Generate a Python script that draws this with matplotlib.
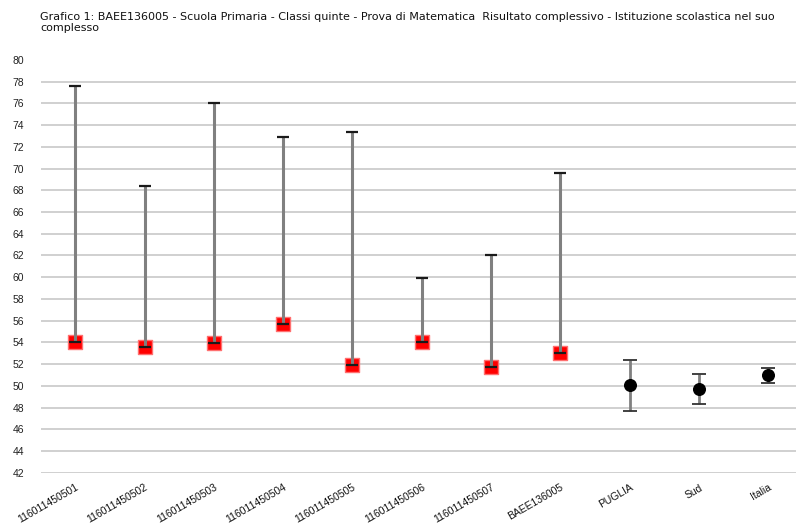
import matplotlib
matplotlib.use("Agg")
import matplotlib.pyplot as plt
import numpy as np

plt.rcParams['font.family'] = ['Liberation Sans', 'DejaVu Sans']

title = ("Grafico 1: BAEE136005 - Scuola Primaria - Classi quinte - Prova di Matematica  Risultato complessivo - Istituzione scolastica nel suo\n"
         "complesso")

school_labels = ["116011450501", "116011450502", "116011450503", "116011450504",
                 "116011450505", "116011450506", "116011450507", "BAEE136005"]
school_values = [54.0, 53.6, 53.95, 55.72, 51.93, 54.0, 51.75, 52.98]
school_upper = [77.63, 68.37, 76.03, 72.87, 73.33, 59.91, 62.03, 69.64]
school_lower = [54.0, 53.6, 53.9, 55.72, 51.9, 54.0, 51.75, 52.98]

ref_labels = ["PUGLIA", "Sud", "Italia"]
ref_values = [50.06, 49.7, 50.98]
ref_upper = [52.37, 51.13, 51.62]
ref_lower = [47.7, 48.28, 50.3]

yticks = list(range(42, 81, 2))

W, H = 796, 524
fig = plt.figure(figsize=(W / 100, H / 100), dpi=100)
left_px, right_px = 40.6, 803.0
top_px, bot_px = 60.0, 472.7
ax = fig.add_axes([left_px / W, 1 - bot_px / H, (right_px - left_px) / W, (bot_px - top_px) / H])

labels = school_labels + ref_labels
n = len(labels)
x_s = np.arange(len(school_labels))
x_r = np.arange(len(school_labels), n)

ax.set_xlim(-0.5, n - 0.5)
ax.set_ylim(42, 80)

for yv in yticks[:-1]:
    ax.axhline(yv, color='#c8c8c8', lw=1.2, zorder=0)

sv = np.array(school_values)
s_err = [np.clip(sv - np.array(school_lower), 0, None), np.array(school_upper) - sv]

ax.scatter(x_s, school_values, marker='s', s=115, color='#ff0000',
           edgecolors='#ff7070', linewidths=1.0, zorder=2)
ax.errorbar(x_s, sv, yerr=s_err, fmt='none', ecolor='#808080', elinewidth=2.2, capsize=0, zorder=3)
ax.errorbar(x_s, sv, yerr=s_err, fmt='none', ecolor='#1a1a1a', elinewidth=0, capsize=4.5,
            capthick=1.6, zorder=4)

rv = np.array(ref_values)
r_err = [rv - np.array(ref_lower), np.array(ref_upper) - rv]
ax.errorbar(x_r, rv, yerr=r_err, fmt='none', ecolor='#808080', elinewidth=2.0, capsize=0, zorder=3)
ax.errorbar(x_r, rv, yerr=r_err, fmt='none', ecolor='#333333', elinewidth=0, capsize=5,
            capthick=1.3, zorder=4)
ax.scatter(x_r, ref_values, marker='o', s=70, color='black', zorder=5)

ax.set_yticks(yticks)
ax.set_yticklabels([str(t) for t in yticks], fontsize=7.5, color='#222222')
ax.set_xticks(np.arange(n))
ax.set_xticklabels(labels, fontsize=7.5, rotation=30, ha='right', rotation_mode='anchor',
                   color='#111111')
ax.tick_params(axis='both', length=0)
ax.tick_params(axis='y', pad=12)
ax.tick_params(axis='x', pad=7)
for s in ax.spines.values():
    s.set_visible(False)

fig.text(40 / W, 1 - 12 / H, title, fontsize=8.0, ha='left', va='top', linespacing=1.1,
         family=['DejaVu Sans'], color='#111111')

fig.savefig("out.png", dpi=100)
